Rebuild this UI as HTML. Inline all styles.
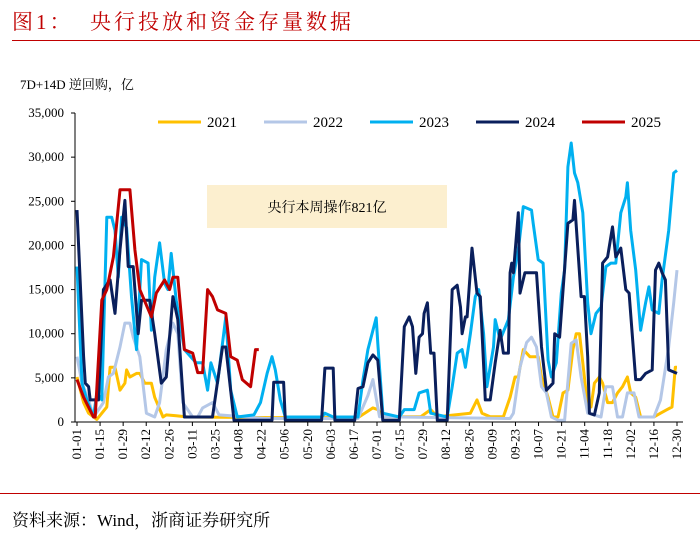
<!DOCTYPE html>
<html><head><meta charset="utf-8">
<style>
body{margin:0;background:#fff;}
#wrap{position:relative;width:700px;height:535px;overflow:hidden;font-family:"Liberation Serif","Noto Serif CJK SC",serif;}
.abs{position:absolute;}
</style></head>
<body>
<div id="wrap">
<div class="abs" style="left:12px;top:6px;font-size:21px;color:#c00000;font-family:'Liberation Serif','Noto Serif CJK SC',serif;letter-spacing:3px;">图1：&nbsp;&nbsp;央行投放和资金存量数据</div>
<div class="abs" style="left:12px;top:40px;width:688px;height:1px;background:#c00000;"></div>
<div class="abs" style="left:0;top:493px;width:700px;height:1px;background:#c00000;"></div>
<div class="abs" style="left:12px;top:506px;font-size:17px;color:#000;">资料来源：Wind，浙商证券研究所</div>
<svg class="abs" style="left:0;top:0" width="700" height="535" id="svg">
<text x="20" y="89" font-size="13" font-family="Liberation Serif, Noto Serif CJK SC, serif">7D+14D 逆回购，亿</text>
<rect x="207" y="185" width="240" height="43" fill="#fcefcf"/>
<text x="327" y="212" font-size="14" text-anchor="middle" font-family="Liberation Serif, Noto Serif CJK SC, serif">央行本周操作821亿</text>
<g id="grid"></g><g id="series"></g><g id="axes"></g><g id="legend"></g>
</svg>
</div>
<script>
const yTicks=[0,5000,10000,15000,20000,25000,30000,35000];
const xTickLabels=["01-01","01-15","01-29","02-12","02-26","03-11","03-25","04-08","04-22","05-06","05-20","06-03","06-17","07-01","07-15","07-29","08-12","08-26","09-09","09-23","10-07","10-21","11-04","11-18","12-02","12-16","12-30"];
const seriesNames=["2021","2022","2023","2024","2025"];
const seriesColors=["#ffc000","#b4c7e7","#00b0f0","#0a1f5c","#c00000"];
const days2021=[0,4,7,12,18,20,23,26,29,30,32,36,38,41,45,47,52,54,60,67,118,170,179,182,185,208,214,218,238,242,245,250,258,262,265,267,270,274,279,281,285,288,291,294,297,300,302,304,306,309,311,313,316,318,321,324,327,330,333,335,338,341,349,353,357,360,362,363];
const vals2021=[5100,2200,1000,300,1700,6200,6200,3600,4400,5900,5100,5500,5500,4400,4400,2800,570,800,700,570,500,500,1600,1400,600,600,1400,600,1000,2500,1000,600,600,2800,5100,5100,8200,7400,7400,5100,2800,570,570,3300,3600,8200,10000,10000,6700,1700,1700,4400,5100,4400,2200,2200,3300,4000,5100,3300,2800,570,570,1000,1400,1700,6200,6200];
const days2022=[0,3,7,10,16,19,22,26,29,32,34,38,42,47,50,54,58,61,64,70,73,76,82,86,114,170,176,179,183,262,264,268,272,275,278,281,284,287,291,295,299,302,305,309,317,320,324,327,330,333,337,340,349,353,358,361,363];
const vals2022=[7400,4400,2500,570,2200,5100,5500,8500,11200,11200,9600,7400,1000,570,2200,8200,11200,10000,2200,570,570,1600,2200,800,400,400,3000,4800,600,400,1000,6200,9000,9600,8500,4000,3300,570,200,200,8900,9300,5100,1000,570,4000,4000,570,570,3300,3300,570,570,2500,8500,13500,17200];
const days2023=[0,3,6,10,12,15,18,21,23,25,27,30,33,36,39,43,45,47,50,53,55,57,60,65,72,76,79,81,85,90,93,97,107,111,115,118,120,123,126,148,150,155,170,173,176,181,182,185,195,198,204,207,212,214,224,227,230,233,235,238,241,243,246,248,252,253,256,261,264,267,270,275,276,279,282,285,287,290,293,295,297,299,301,303,306,309,311,314,317,320,323,326,329,332,333,335,338,341,344,346,348,352,354,358,361,363];
const vals2023=[17600,4400,2500,570,3300,2500,23200,23200,21700,16400,23200,22000,14200,8200,18400,18000,10400,16400,20300,15700,15000,19100,13800,8200,6700,6700,3600,6700,4400,11900,3600,570,800,2200,5500,7400,5900,2500,570,570,1000,570,570,4800,8200,11800,8900,1000,570,1400,1400,3300,3600,1000,570,4000,7800,8200,6200,10000,14200,15000,10000,4000,8500,11600,9300,11600,16400,19500,24400,24000,22500,18400,18000,7000,5100,6700,14600,17200,28900,31600,28200,27100,23700,13500,10000,12300,13000,17600,18000,18000,23700,25500,27100,21700,17200,10400,13500,15300,12700,12300,16100,21700,28200,28500];
const days2024=[0,4,5,7,8,13,16,20,23,26,29,31,34,37,39,44,47,51,54,58,61,65,82,88,90,95,118,119,125,126,148,150,155,156,168,170,173,176,179,182,185,195,198,201,203,205,207,209,210,212,214,216,218,224,227,230,232,233,235,236,239,242,244,247,250,253,256,258,261,262,263,264,267,268,271,273,278,281,284,288,289,292,297,300,301,305,307,309,310,313,316,318,321,324,326,329,332,334,338,341,344,348,350,352,354,356,358,363];
const vals2024=[24000,7400,4400,4000,2500,2500,15000,16100,12300,19500,25100,17600,17600,10000,13800,13800,10000,4400,5100,14200,11600,570,570,8500,8500,200,200,4500,4500,200,200,6100,6100,200,200,3800,4000,6700,7600,7000,200,200,10800,11900,10800,5500,9600,10000,12300,13500,7800,7800,200,200,15000,15500,13000,10000,11900,11900,19700,14600,14200,2500,2500,6700,10400,7800,7800,16900,18000,16900,23700,14600,16900,16900,16900,8500,3600,4400,10000,9600,22500,22900,25100,14200,14200,7400,1000,800,3300,18000,18700,22100,18700,19700,15000,14600,4800,4800,5500,5900,17200,18000,16900,16100,5900,5500];
const days2025=[0,4,10,11,15,18,22,26,32,35,38,45,48,53,56,58,61,65,70,73,76,79,82,85,90,93,97,100,105,108,110];
const vals2025=[4800,2800,570,570,13800,15000,18700,26300,26300,19500,15000,11900,14600,16100,15000,16400,16400,8200,7800,5600,5600,15000,14200,12700,12300,7400,7000,4800,4000,8200,8200];
const allDays=[days2021,days2022,days2023,days2024,days2025];
const allVals=[vals2021,vals2022,vals2023,vals2024,vals2025];

const NS="http://www.w3.org/2000/svg";
const X0=77,X1=677,Y0=422,Y1=113,XMAX=363,YMAX=35000;
function xs(d){return X0+d*(X1-X0)/XMAX;}
function ys(v){return Y0-v*(Y0-Y1)/YMAX;}
function mk(tag,attrs,parent){const e=document.createElementNS(NS,tag);for(const k in attrs)e.setAttribute(k,attrs[k]);parent.appendChild(e);return e;}
const axes=document.getElementById('axes'),series=document.getElementById('series'),legend=document.getElementById('legend');
const font="Liberation Serif, Noto Serif CJK SC, serif";

let yl=mk('line',{x1:75,y1:Y1,x2:75,y2:Y0,stroke:'#000','stroke-width':1},axes);


let xl=mk('line',{x1:75,y1:Y0,x2:683,y2:Y0,stroke:'#000','stroke-width':1},axes);



yTicks.forEach(v=>{
  const tk=mk('line',{x1:71,y1:ys(v),x2:75,y2:ys(v),stroke:'#000'},axes);
  
  
  const t=mk('text',{x:64,y:ys(v)+4,'font-size':13,'text-anchor':'end','font-family':font},axes);
  t.textContent=v.toLocaleString('en-US');
  
  
});
xTickLabels.forEach((lab,i)=>{
  const x=xs(i*XMAX/(xTickLabels.length-1));
  const tk=mk('line',{x1:x,y1:Y0,x2:x,y2:Y0+4,stroke:'#000'},axes);
  
  
  const t=mk('text',{x:x+4,y:Y0+7,'font-size':13,'text-anchor':'end','font-family':font,transform:`rotate(-90 ${x+4} ${Y0+7})`},axes);
  t.textContent=lab;
  
  
});

allDays.forEach((ds,si)=>{
  const pts=ds.map((d,i)=>xs(d).toFixed(1)+','+ys(allVals[si][i]).toFixed(1)).join(' ');
  const p=mk('polyline',{points:pts,fill:'none',stroke:seriesColors[si],'stroke-width':3,'stroke-linejoin':'round'},series);
  
  
});

const legX=[158,264,370,476,582];
seriesNames.forEach((n,i)=>{
  const g=mk('g',{},legend);
  
  
  mk('line',{x1:legX[i],y1:122,x2:legX[i]+43,y2:122,stroke:seriesColors[i],'stroke-width':3},g);
  const t=mk('text',{x:legX[i]+49,y:127,'font-size':15,'font-family':font},g);
  t.textContent=n;
});
</script>
</body></html>
